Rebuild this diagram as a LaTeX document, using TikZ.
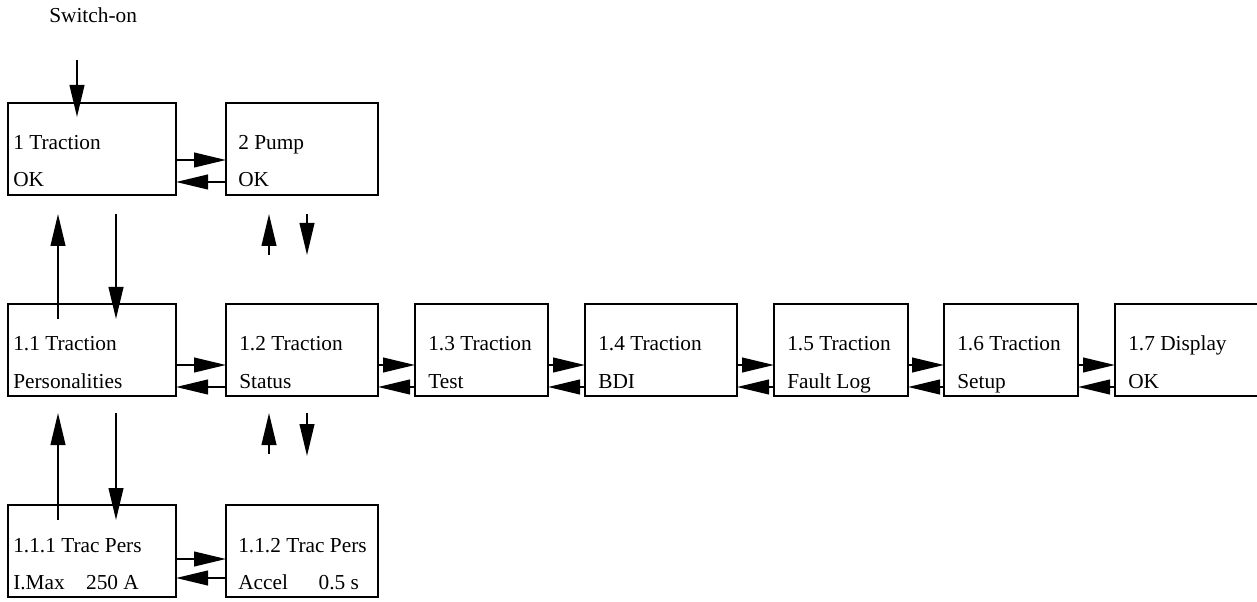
\documentclass[tikz,border=0pt]{standalone}
\usepackage{fontspec}
\setmainfont{Liberation Serif}
\usetikzlibrary{arrows.meta}
\tikzset{
  box/.style={draw, line width=1.5pt, anchor=north west, inner sep=0pt, outer sep=0pt, minimum height=92*0.75pt},
  txt/.style={anchor=base west, inner sep=0pt, font=\fontsize{16}{19}\selectfont},
  arr/.style={-{Triangle[length=24pt,width=11pt]}, line width=1.5pt},
}
% menu box: name, x, y, width, text indent, top line, bottom line
\newcommand{\menubox}[7]{%
  \node[box, minimum width=#4*0.75pt] (#1) at (#2,#3) {};
  \node[txt] (#1a) at ([shift={(#5,47)}]#1.north west) {#6};
  \node[txt] (#1b) at ([shift={(#5,84)}]#1.north west) {#7};}
\begin{document}
\begin{tikzpicture}[x=0.75pt,y=-0.75pt]
	\useasboundingbox (0,0) rectangle (1257,602);
	\node[txt] (swon) at (49,23) {Switch-on};
	\menubox{b1}{8}{103}{168}{5}{1 Traction}{OK}
	\menubox{b2}{226}{103}{152}{12}{2 Pump}{OK}
	\menubox{b11}{8}{304}{168}{5}{1.1 Traction}{Personalities}
	\menubox{b12}{226}{304}{152}{13}{1.2 Traction}{Status}
	\menubox{b13}{415}{304}{133}{13}{1.3 Traction}{Test}
	\menubox{b14}{585}{304}{152}{13}{1.4 Traction}{BDI}
	\menubox{b15}{774}{304}{134}{13}{1.5 Traction}{Fault Log}
	\menubox{b16}{944}{304}{134}{13}{1.6 Traction}{Setup}
	\menubox{b17}{1115}{304}{175}{13}{1.7 Display}{OK}
	\menubox{b111}{8}{505}{168}{5}{1.1.1 Trac Pers}{I.Max\hspace{16pt}250 A}
	\menubox{b112}{226}{505}{152}{12}{1.1.2 Trac Pers}{Accel\hspace{23pt}0.5 s}
	% switch-on
	\coordinate (on) at (77,60);
	\draw[arr] (on) -- ([shift={(69,14)}]b1.north west);
	% left / right
	\draw[arr] ([shift={(0,57)}]b1.north east) -- ([shift={(0,57)}]b2.north west);
	\draw[arr] ([shift={(0,79)}]b2.north west) -- ([shift={(0,79)}]b1.north east);
	\foreach \a/\b in {b11/b12,b12/b13,b13/b14,b14/b15,b15/b16,b16/b17} {
		\draw[arr] ([shift={(0,61)}]\a.north east) -- ([shift={(0,61)}]\b.north west);
		\draw[arr] ([shift={(0,83)}]\b.north west) -- ([shift={(0,83)}]\a.north east);
	}
	\draw[arr] ([shift={(0,54)}]b111.north east) -- ([shift={(0,54)}]b112.north west);
	\draw[arr] ([shift={(0,73)}]b112.north west) -- ([shift={(0,73)}]b111.north east);
	% up / down
	\draw[arr] ([shift={(50,15)}]b11.north west) -- ([shift={(50,19)}]b1.south west);
	\draw[arr] ([shift={(108,19)}]b1.south west) -- ([shift={(108,15)}]b11.north west);
	\draw[arr] ([shift={(43,60)}]b2.south west) -- ([shift={(43,19)}]b2.south west);
	\draw[arr] ([shift={(81,19)}]b2.south west) -- ([shift={(81,60)}]b2.south west);
	\draw[arr] ([shift={(50,15)}]b111.north west) -- ([shift={(50,17)}]b11.south west);
	\draw[arr] ([shift={(108,17)}]b11.south west) -- ([shift={(108,15)}]b111.north west);
	\draw[arr] ([shift={(43,58)}]b12.south west) -- ([shift={(43,17)}]b12.south west);
	\draw[arr] ([shift={(81,17)}]b12.south west) -- ([shift={(81,60)}]b12.south west);
\end{tikzpicture}
\end{document}
